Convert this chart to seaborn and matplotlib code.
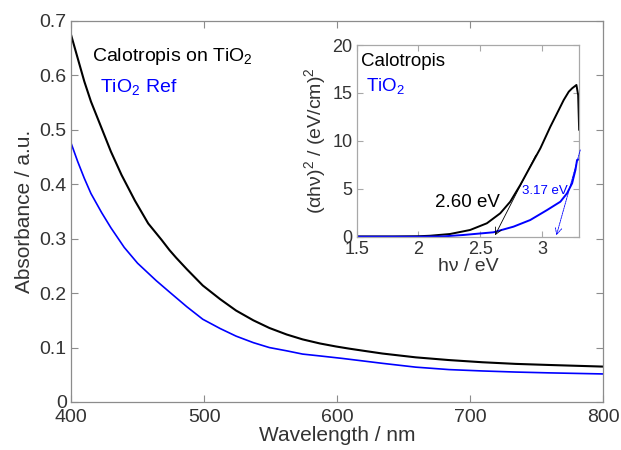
import matplotlib
matplotlib.use("Agg")
import matplotlib.pyplot as plt
import seaborn as sns
import pandas as pd

# ---- main panel data (absorbance vs wavelength) ----
wl_cal = [400, 405, 410, 415, 423, 430, 438, 448, 458, 468, 474, 479, 487, 499, 512, 524,
          537, 549, 562, 574, 587, 599, 609, 620, 634, 659, 684, 709, 734, 759, 800]
abs_cal = [0.675, 0.632, 0.589, 0.552, 0.503, 0.460, 0.417, 0.370, 0.328, 0.298, 0.279,
           0.265, 0.244, 0.214, 0.189, 0.168, 0.150, 0.136, 0.124, 0.115, 0.1075, 0.102,
           0.098, 0.094, 0.089, 0.082, 0.077, 0.073, 0.070, 0.068, 0.065]
wl_ref = [400, 405, 410, 415, 423, 430, 440, 450, 464, 474, 487, 499, 512, 524, 537, 549,
          562, 574, 587, 604, 634, 659, 684, 709, 734, 759, 800]
abs_ref = [0.476, 0.442, 0.411, 0.383, 0.348, 0.320, 0.284, 0.255, 0.223, 0.202, 0.175,
           0.152, 0.135, 0.121, 0.109, 0.100, 0.094, 0.088, 0.0846, 0.080, 0.071, 0.064,
           0.0595, 0.0570, 0.0550, 0.0535, 0.0515]

# ---- inset data (Tauc plot) ----
ev_cal = [1.5, 1.8, 2.0, 2.093, 2.255, 2.418, 2.554, 2.662, 2.743, 2.824, 2.905, 2.987,
          3.068, 3.135, 3.176, 3.217, 3.244, 3.279, 3.293, 3.301]
tauc_cal = [0.03, 0.03, 0.05, 0.10, 0.28, 0.70, 1.40, 2.44, 3.65, 5.39, 7.30, 9.22,
            11.48, 13.2, 14.26, 15.13, 15.48, 15.83, 14.78, 11.13]
ev_ref = [1.5, 2.0, 2.2, 2.364, 2.607, 2.77, 2.905, 3.041, 3.149, 3.203, 3.244, 3.271,
          3.284, 3.3]
tauc_ref = [0.0, 0.0, 0.03, 0.18, 0.46, 1.05, 1.74, 2.78, 3.65, 4.53, 5.57, 6.96,
            8.0, 8.07]

gap_cal = 2.60
gap_ref = 3.17

main_xticks = [400, 500, 600, 700, 800]
main_yticks = [0, 0.1, 0.2, 0.3, 0.4, 0.5, 0.6, 0.7]
inset_xticks = [1.5, 2, 2.5, 3]
inset_yticks = [0, 5, 10, 15, 20]

sns.set_theme(style="ticks")
plt.rcParams["font.family"] = ["Liberation Sans", "DejaVu Sans"]
plt.rcParams["mathtext.fontset"] = "custom"
plt.rcParams["mathtext.rm"] = "Liberation Sans"
plt.rcParams["mathtext.it"] = "Liberation Sans:italic"
plt.rcParams["mathtext.bf"] = "Liberation Sans:bold"

TXT = "#333333"
SP = "#8c8c8c"
SP2 = "#a8a8a8"
BLUE = "#0000ff"

fig = plt.figure(figsize=(6.21, 4.5), dpi=100)
ax = fig.add_axes([0.1143, 0.1067, 0.8575, 0.8467])

df_cal = pd.DataFrame({"wl": wl_cal, "A": abs_cal})
df_ref = pd.DataFrame({"wl": wl_ref, "A": abs_ref})
sns.lineplot(data=df_cal, x="wl", y="A", ax=ax, color="black", lw=1.5)
sns.lineplot(data=df_ref, x="wl", y="A", ax=ax, color=BLUE, lw=1.2)

ax.set_xlim(400, 800)
ax.set_ylim(0, 0.7)
ax.set_xticks(main_xticks)
ax.set_yticks(main_yticks)
ax.set_yticklabels(["0", "0.1", "0.2", "0.3", "0.4", "0.5", "0.6", "0.7"])
ax.tick_params(direction="in", top=True, right=True, length=5, width=0.8,
               color=SP, labelsize=14, labelcolor=TXT)
ax.tick_params(axis="x", pad=5)
ax.tick_params(axis="y", pad=3)
for s in ax.spines.values():
    s.set_color(SP)
    s.set_linewidth(0.9)
ax.set_xlabel("Wavelength / nm", fontsize=15, color=TXT, labelpad=0)
ax.set_ylabel("Absorbance / a.u.", fontsize=15, color=TXT, labelpad=4)

ax.text(416, 0.626, "Calotropis on TiO$_2$", fontsize=14, color="black", va="baseline")
ax.text(421.5, 0.569, "TiO$_2$ Ref", fontsize=14, color=BLUE, va="baseline")

# ---- inset ----
ins = fig.add_axes([0.5744, 0.474, 0.358, 0.426])
ins.set_facecolor("white")
df_ical = pd.DataFrame({"E": ev_cal, "T": tauc_cal})
df_iref = pd.DataFrame({"E": ev_ref, "T": tauc_ref})
sns.lineplot(data=df_ical, x="E", y="T", ax=ins, color="black", lw=1.4)
sns.lineplot(data=df_iref, x="E", y="T", ax=ins, color=BLUE, lw=1.4)

ins.set_xlim(1.5, 3.3)
ins.set_ylim(0, 20)
ins.set_xticks(inset_xticks)
ins.set_xticklabels(["1.5", "2", "2.5", "3"])
ins.set_yticks(inset_yticks)
ins.tick_params(direction="in", top=True, right=True, length=4, width=0.8, color=SP2,
                labelsize=13, labelcolor=TXT, pad=3)
for s in ins.spines.values():
    s.set_color(SP2)
    s.set_linewidth(0.9)
ins.set_xlabel("hν / eV", fontsize=14, color=TXT, labelpad=0)
ins.set_ylabel("(αhν)$^2$ / (eV/cm)$^2$", fontsize=14, color=TXT, labelpad=3)

ins.text(1.538, 17.8, "Calotropis", fontsize=13.5, color="black", va="baseline")
ins.text(1.573, 15.23, "TiO$_2$", fontsize=13.5, color=BLUE, va="baseline")

ins.annotate("", xy=(gap_cal + 0.02, 0.15), xytext=(2.95, 8.5),
             arrowprops=dict(arrowstyle="->", color="black", lw=0.6,
                             shrinkA=0, shrinkB=0))
ins.annotate("", xy=(gap_ref - 0.053, 0.15), xytext=(3.31, 9.05),
             arrowprops=dict(arrowstyle="->", color=BLUE, lw=0.6, linestyle=(0, (2, 1)),
                             shrinkA=0, shrinkB=0), annotation_clip=False)
ins.text(2.134, 3.13, f"{gap_cal:.2f} eV", fontsize=13.5, color="black", va="baseline")
ins.text(2.838, 4.45, f"{gap_ref:.2f} eV", fontsize=9.5, color=BLUE, va="baseline")

fig.savefig("out.png", dpi=100)
